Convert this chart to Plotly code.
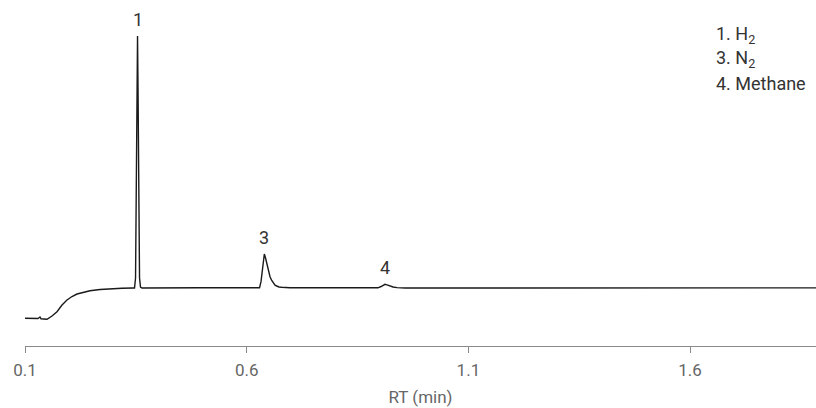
import plotly.graph_objects as go

# Retention time (min) and detector signal (arbitrary units, baseline = 0)
rt = [0.100, 0.1293, 0.1338, 0.1361, 0.1496, 0.1609, 0.1722, 0.1835, 0.1947, 0.2060,
      0.2173, 0.2331, 0.2466, 0.2692, 0.2917, 0.3188, 0.3436,
      0.3470, 0.3493, 0.3511, 0.3526, 0.3538, 0.3549, 0.3565, 0.3583, 0.3605, 0.3639,
      0.4947, 0.6256,
      0.6290, 0.6323, 0.6353, 0.6375, 0.6398, 0.6425, 0.6452, 0.6488, 0.6526, 0.6565,
      0.6601, 0.6639, 0.6677, 0.6729, 0.6790, 0.6977,
      0.8782, 0.8962, 0.9030, 0.9075, 0.9120, 0.9165, 0.9233, 0.9301, 0.9391, 0.9571,
      1.1714, 1.5098, 1.884]
signal = [-30.3, -30.5, -29.0, -30.8, -31.3, -28.0, -23.7, -17.0, -12.0, -8.5,
          -6.0, -4.0, -2.7, -1.5, -0.8, -0.3, 0.0,
          0.0, 10.0, 80.0, 200.0, 252.0, 200.0, 80.0, 10.0, 1.0, 0.0,
          0.2, 0.3,
          0.3, 6.3, 19.7, 29.7, 34.0, 30.0, 24.7, 17.0, 11.3, 7.5,
          4.7, 2.8, 2.0, 1.0, 0.7, 0.3,
          0.2, 0.2, 1.5, 3.0, 3.7, 3.2, 2.0, 1.0, 0.4, 0.0,
          0.0, 0.1, 0.1]

peak_labels = ["1", "3", "4"]
peak_rt = [0.3538, 0.6398, 0.9120]
peak_height = [252.0, 34.0, 3.7]

legend_lines = ["1. H<sub>2</sub>", "3. N<sub>2</sub>", "4. Methane"]
x_ticks = [0.1, 0.6, 1.1, 1.6]
x_tick_labels = ["0.1", "0.6", "1.1", "1.6"]

fig = go.Figure()
fig.add_trace(go.Scatter(x=rt, y=signal, mode="lines",
                         line=dict(color="#1a1a1a", width=1.4), hoverinfo="skip",
                         showlegend=False))

for lab, px, ph in zip(peak_labels, peak_rt, peak_height):
    fig.add_annotation(x=px, y=ph, text=lab, showarrow=False, yanchor="bottom",
                       yshift=4, font=dict(family="Roboto", size=18, color="#333333"))

legend_y = [0.954, 0.880, 0.806]
for txt, ly in zip(legend_lines, legend_y):
    fig.add_annotation(xref="paper", yref="paper", x=0.871, y=ly, xanchor="left",
                       yanchor="middle", align="left", showarrow=False, text=txt,
                       font=dict(family="Roboto", size=18, color="#333333"))

fig.update_layout(
    width=816, height=408,
    margin=dict(l=25, r=0, t=20, b=62, autoexpand=False),
    plot_bgcolor="white", paper_bgcolor="white",
    font=dict(family="Roboto", color="#666666"),
    xaxis=dict(range=[0.1, 1.884], tickvals=x_ticks, ticktext=x_tick_labels,
               automargin=False, ticklabelstandoff=3,
               showgrid=False, zeroline=False, showline=True, linecolor="#8a8a8a",
               linewidth=1, ticks="outside", ticklen=6, tickcolor="#8a8a8a",
               tickfont=dict(family="Roboto", size=17, color="#666666"),
               title=dict(text="RT (min)", font=dict(family="Roboto", size=17, color="#666666"),
                          standoff=11)),
    yaxis=dict(range=[-58, 268], visible=False, showgrid=False, zeroline=False,
               automargin=False),
)

# Remove the browser's default page margin so the figure fills the window exactly.
fig.write_html("out.html", config={"displayModeBar": False},
               post_script="document.body.style.margin='0';document.body.style.overflow='hidden';")
